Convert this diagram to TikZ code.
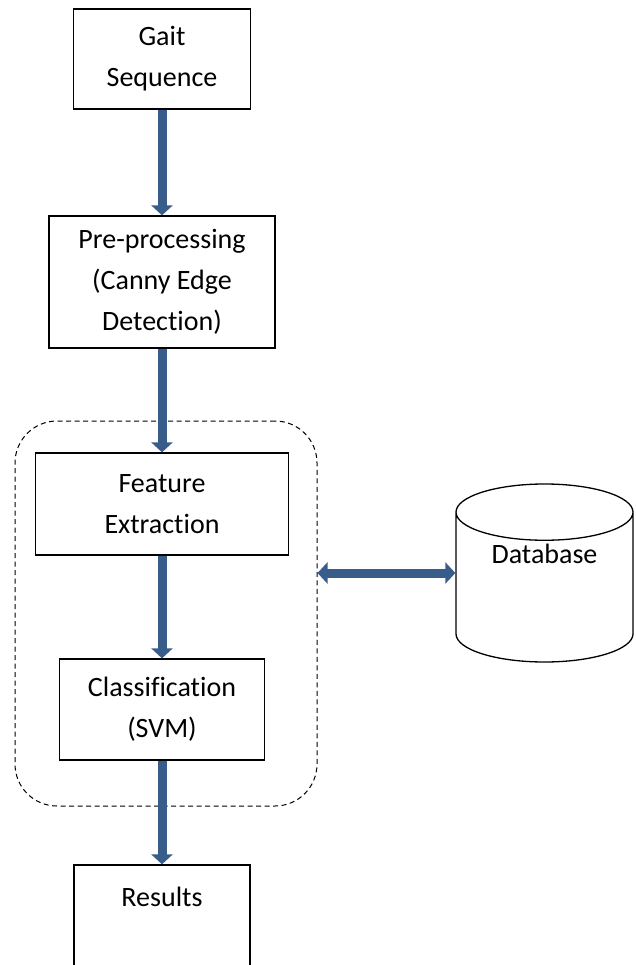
\documentclass[tikz,border=0pt]{standalone}
\usepackage{fontspec}
\setmainfont{Carlito}[Ligatures=NoCommon]
\usetikzlibrary{graphs}
\usetikzlibrary{arrows.meta}
\usetikzlibrary{shapes.geometric}
\definecolor{flowblue}{RGB}{56,93,138}
\tikzset{
  box/.style= {draw, line width=1.3pt, align=center, inner sep=0pt},
  grp/.style= {draw, line width=1pt, dash pattern=on 5pt off 3.5pt, rounded corners=42pt},
  dbnode/.style= {draw, cylinder, shape border rotate=90, aspect=0.5, line width=1.3pt, align=center, anchor=shape center},
  flow/.style= {flowblue, line width=9pt, >={Triangle[width=21pt, length=10pt]}},
}

\begin{document}
\begin{tikzpicture}[x=1pt, y=-1pt, font=\fontsize{28}{41}\selectfont]
  \useasboundingbox (0,0) rectangle (636,965);
  \node [grp, minimum width=302pt, minimum height=385pt] (grp) at (166,613.5) {} ;
  \node [box, minimum width=177pt, minimum height=100pt] (gait) at (162,59) {Gait\\Sequence} ;
  \node [box, minimum width=226pt, minimum height=132pt] (pre) at (162,282) {Pre-processing\\(Canny Edge\\Detection)} ;
  \node [box, minimum width=253pt, minimum height=102pt] (feat) at (162,504) {Feature\\Extraction} ;
  \node [box, minimum width=205pt, minimum height=101pt] (cls) at (162,709.5) {Classification\\(SVM)} ;
  \node [box, minimum width=176pt, minimum height=104pt] (res) at (162,917) {Results\\ \mbox{}} ;
  \node [dbnode, minimum width=177pt, minimum height=178pt] (db) at (544.5,573) {Database\\[-8pt] \mbox{}\\ \mbox{}} ;

  \graph [edges={flow}] {
    (gait) -> (pre) -> (feat) -> (cls) -> (res) ;
  } ;
  \draw [flow, <->] (grp.east |- db.shape center) -- (db.shape center -| db.west) ;
\end{tikzpicture}
\end{document}
